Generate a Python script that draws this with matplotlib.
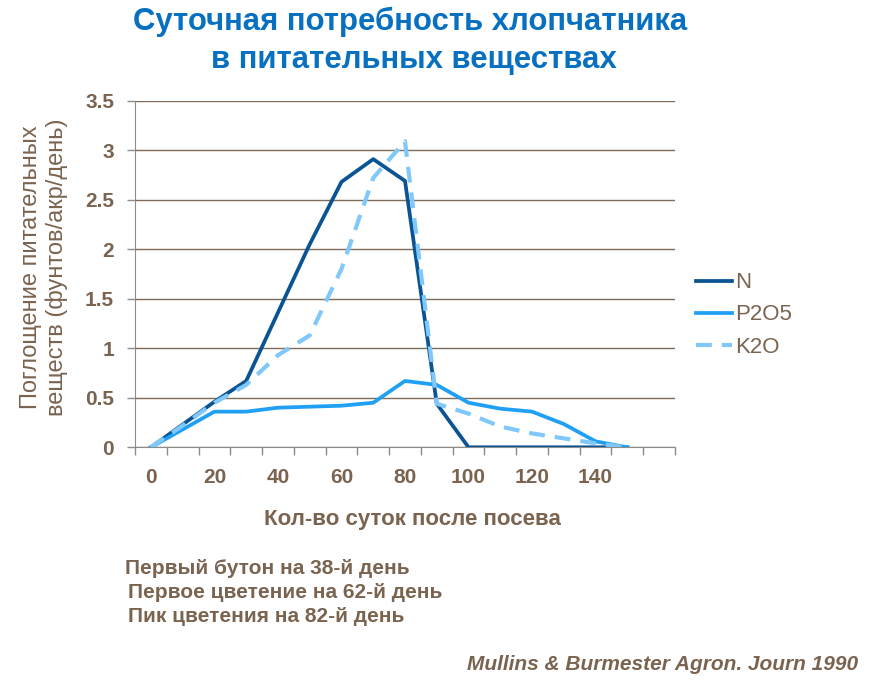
import matplotlib
matplotlib.use("Agg")
import matplotlib.pyplot as plt
import numpy as np

REG = "Liberation Sans"

days = [0, 10, 20, 30, 40, 50, 60, 70, 80, 90, 100, 110, 120, 130, 140, 150, 160]
tick_labels = ["0", "", "20", "", "40", "", "60", "", "80", "", "100", "", "120", "", "140", "", ""]
n_vals = [0, 0.23, 0.46, 0.67, 1.36, 2.05, 2.68, 2.91, 2.69, 0.44, 0, 0, 0, 0, 0, 0]
p2o5_vals = [0, 0.18, 0.36, 0.36, 0.40, 0.41, 0.42, 0.45, 0.67, 0.63, 0.45, 0.39, 0.36, 0.235, 0.06, 0]
k2o_vals = [0, 0.22, 0.45, 0.63, 0.93, 1.13, 1.80, 2.72, 3.09, 0.44, 0.34, 0.21, 0.14, 0.09, 0.04, 0]
series_names = ["N", "P2O5", "K2O"]

BROWN = "#7a6450"
GRID = "#7f6b57"
AXC = "#8c8c8c"

fig = plt.figure(figsize=(8.76, 6.88), dpi=100)
ax = fig.add_axes([135/876, 1-447.3/688, 540/876, 346.6/688])

ax.plot(np.arange(len(n_vals)), n_vals, color="#0b5494", lw=2.7, label=series_names[0], zorder=3)
ax.plot(np.arange(len(p2o5_vals)), p2o5_vals, color="#1fa0f5", lw=2.7, label=series_names[1], zorder=4)
ax.plot(np.arange(len(k2o_vals)), k2o_vals, color="#80c8fa", lw=3.0, ls=(0, (3.8, 2.4)),
        dash_capstyle="butt", label=series_names[2], zorder=5)

ax.set_xlim(-0.5, len(days) - 0.5)
ax.set_ylim(0, 3.5)
ax.set_yticks(np.arange(0, 3.51, 0.5))
ax.set_yticklabels(["0", "0.5", "1", "1.5", "2", "2.5", "3", "3.5"])
ax.yaxis.grid(True, color=GRID, lw=1.0)
ax.set_axisbelow(True)

ax.set_xticks(np.arange(len(days) + 1) - 0.5)
ax.set_xticklabels([])
ax.set_xticks(np.arange(len(days)), minor=True)
ax.set_xticklabels(tick_labels, minor=True)
ax.tick_params(axis="x", which="major", length=6, width=1, color=AXC, direction="out")
ax.tick_params(axis="x", which="minor", length=0, pad=15)
ax.tick_params(axis="y", length=6, width=1, color=AXC, pad=9)

for lab in ax.get_xticklabels(minor=True) + ax.get_yticklabels():
    lab.set_fontfamily(REG)
    lab.set_fontweight("bold")
    lab.set_fontsize(15)
    lab.set_color(BROWN)

for s in ["top", "right"]:
    ax.spines[s].set_visible(False)
ax.spines["left"].set_color(AXC)
ax.spines["bottom"].set_color(AXC)

leg = ax.legend(loc="center left", bbox_to_anchor=(696/876, 1-315/688), bbox_transform=fig.transFigure,
                frameon=False, handlelength=1.6, labelspacing=0.5, handletextpad=0.15, borderpad=0,
                borderaxespad=0, prop={"family": REG, "size": 16})
for t in leg.get_texts():
    t.set_color(BROWN)

fig.text(410/876, 1-22/688, "Суточная потребность хлопчатника", ha="center", va="center",
         fontsize=22.4, fontweight="bold", color="#0870c0", family=REG)
fig.text(414/876, 1-60/688, "в питательных веществах", ha="center", va="center",
         fontsize=22.4, fontweight="bold", color="#0870c0", family=REG)

fig.text(44/876, 1-267/688, "Поглощение питательных\nвеществ (фунтов/акр/день)", rotation=90,
         ha="center", va="center", multialignment="center", fontsize=17, color=BROWN,
         family=REG, linespacing=1.2)

fig.text(412/876, 1-520/688, "Кол-во суток после посева", ha="center", va="center",
         fontsize=16, fontweight="bold", color=BROWN, family=REG)

fig.text(125/876, 1-568/688, "Первый бутон на 38-й день", ha="left", va="center",
         fontsize=15, fontweight="bold", color=BROWN, family=REG)
fig.text(128/876, 1-592/688, "Первое цветение на 62-й день", ha="left", va="center",
         fontsize=15, fontweight="bold", color=BROWN, family=REG)
fig.text(128/876, 1-616/688, "Пик цветения на 82-й день", ha="left", va="center",
         fontsize=15, fontweight="bold", color=BROWN, family=REG)

fig.text(858/876, 1-664/688, "Mullins & Burmester Agron. Journ 1990", ha="right", va="center",
         fontsize=15, fontweight="bold", style="italic", color=BROWN, family=REG)

fig.savefig("out.png", dpi=100)
